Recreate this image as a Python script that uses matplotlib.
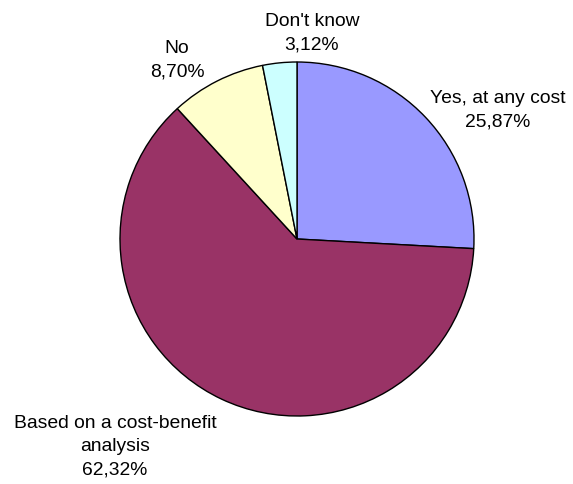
import matplotlib.pyplot as plt

# data
labels = ["Yes, at any cost", "Based on a cost-benefit\nanalysis", "No", "Don't know"]
values = [25.87, 62.32, 8.70, 3.12]
colors = ["#9999FF", "#993366", "#FFFFCC", "#CCFFFF"]

# label centres in pixel coords (figure is 573x485)
label_pos = [(498, 110), (115, 447), (177, 60), (312, 33)]

plt.rcParams['font.family'] = ['Liberation Sans', 'DejaVu Sans']

fig = plt.figure(figsize=(5.73, 4.85), dpi=100)
ax = fig.add_axes([0, 0, 1, 1])

# y axis runs downward, so counterclock=True draws clockwise on screen
ax.pie(values, colors=colors, startangle=-90, counterclock=True,
       center=(297, 240), radius=177, frame=True,
       wedgeprops=dict(edgecolor='black', linewidth=1))
ax.set_xlim(0, 573)
ax.set_ylim(485, 0)
ax.set_aspect('equal')
ax.axis('off')

for lab, v, (x, y) in zip(labels, values, label_pos):
    txt = lab + "\n" + ("%.2f%%" % v).replace(".", ",")
    ax.text(x, y, txt, ha='center', va='center', fontsize=13.9,
            linespacing=1.5, color='black')

fig.savefig("out.png", dpi=100)
